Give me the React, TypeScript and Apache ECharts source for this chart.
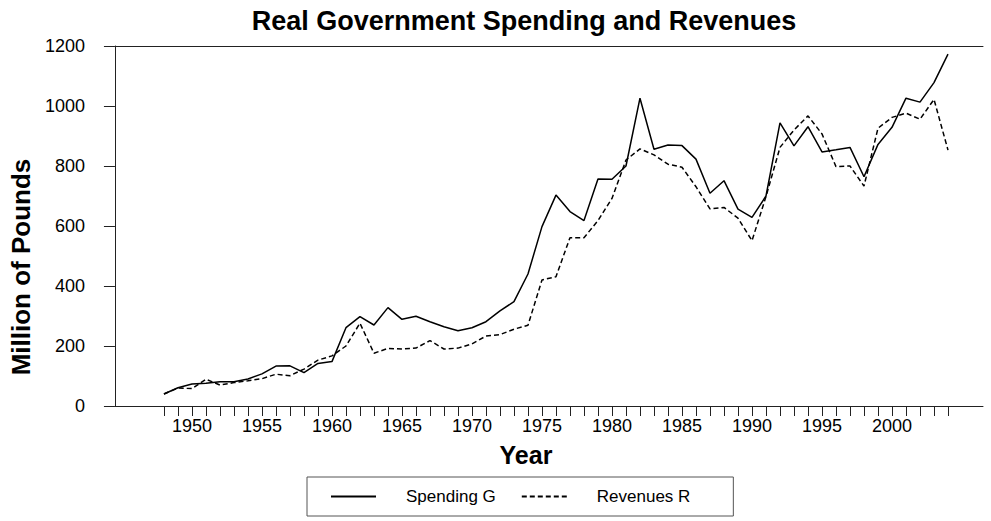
import React, { useEffect, useRef } from "react";
import * as echarts from "echarts";

const categories: string[] = [];
for (let y = 1945; y <= 2006; y++) categories.push(String(y));

const years: number[] = [
  1948, 1949, 1950, 1951, 1952, 1953, 1954, 1955, 1956, 1957,
  1958, 1959, 1960, 1961, 1962, 1963, 1964, 1965, 1966, 1967,
  1968, 1969, 1970, 1971, 1972, 1973, 1974, 1975, 1976, 1977,
  1978, 1979, 1980, 1981, 1982, 1983, 1984, 1985, 1986, 1987,
  1988, 1989, 1990, 1991, 1992, 1993, 1994, 1995, 1996, 1997,
  1998, 1999, 2000, 2001, 2002, 2003, 2004,
];

const spendingG: number[] = [
  40, 61, 73, 76, 81, 81, 90, 107, 133, 134,
  111, 142, 148, 261, 298, 270, 328, 289, 299, 281,
  264, 251, 261, 281, 317, 348, 440, 598, 703, 648,
  618, 757, 756, 800, 1026, 856, 870, 868, 823, 709,
  751, 656, 629, 700, 944, 867, 931, 847, 854, 862,
  764, 872, 929, 1026, 1013, 1078, 1173,
];

const revenuesR: number[] = [
  40, 60, 58, 89, 70, 78, 84, 91, 106, 101,
  123, 153, 167, 200, 276, 176, 192, 190, 193, 218,
  190, 193, 207, 233, 238, 256, 269, 420, 431, 561,
  561, 618, 692, 820, 857, 837, 806, 796, 731, 657,
  662, 626, 551, 698, 862, 920, 967, 907, 798, 800,
  733, 926, 962, 976, 956, 1022, 853,
];

const yTicks = { min: 0, max: 1200, interval: 200 };

const FONT = "'Liberation Sans', Arial, Helvetica, sans-serif";

export default function App() {
  const ref = useRef<HTMLDivElement>(null);

  useEffect(() => {
    if (!ref.current) return;
    const chart = echarts.init(ref.current, undefined, { renderer: "svg" });
    const option: any = {
      animation: false,
      backgroundColor: "#ffffff",
      textStyle: { fontFamily: FONT, color: "#000" },
      title: {
        text: "Real Government Spending and Revenues",
        left: 524,
        top: 7,
        padding: 0,
        textAlign: "center",
        textStyle: { fontFamily: FONT, fontSize: 27, fontWeight: "bold", color: "#000" },
      },
      legend: {
        data: ["Spending G", "Revenues R"],
        left: 307,
        top: 477,
        orient: "horizontal",
        borderColor: "#555",
        borderWidth: 1,
        borderRadius: 0,
        padding: [11, 43, 11, 23],
        itemWidth: 45,
        itemHeight: 14,
        itemGap: 25,
        itemStyle: { opacity: 0 },
        textStyle: { fontFamily: FONT, fontSize: 17, color: "#000", padding: [0, 0, 0, 25] },
      },
      grid: { left: 113, right: 8, top: 46, bottom: 115, containLabel: false },
      xAxis: [
        {
          type: "category",
          data: categories,
          boundaryGap: true,
          position: "bottom",
          name: "Year",
          nameLocation: "middle",
          nameGap: 36,
          nameTextStyle: {
            fontFamily: FONT,
            fontSize: 25,
            fontWeight: "bold",
            color: "#000",
            padding: [0, 46, 0, 0],
          },
          axisLine: { show: true, lineStyle: { color: "#222", width: 1 } },
          axisTick: {
            show: true,
            alignWithLabel: true,
            length: 10,
            interval: (_i: number, v: string) => +v >= 1948 && +v <= 2004,
            lineStyle: { color: "#222" },
          },
          axisLabel: {
            show: true,
            margin: 11,
            fontFamily: FONT,
            fontSize: 18,
            color: "#000",
            interval: (_i: number, v: string) => +v % 5 === 0 && +v >= 1950 && +v <= 2000,
          },
          splitLine: { show: false },
        },
        {
          type: "value",
          position: "top",
          min: 0,
          max: 1,
          axisLine: { show: true, onZero: false, lineStyle: { color: "#222", width: 1 } },
          axisTick: { show: false },
          axisLabel: { show: false },
          splitLine: { show: false },
        },
      ],
      yAxis: {
        type: "value",
        min: yTicks.min,
        max: yTicks.max,
        interval: yTicks.interval,
        name: "Million of Pounds",
        nameLocation: "middle",
        nameGap: 79,
        nameTextStyle: {
          fontFamily: FONT,
          fontSize: 26,
          fontWeight: "bold",
          color: "#000",
          padding: [0, 82, 0, 0],
        },
        axisLine: { show: true, lineStyle: { color: "#222", width: 1 } },
        axisTick: { show: true, length: 11, lineStyle: { color: "#222" } },
        axisLabel: {
          margin: 30,
          fontFamily: FONT,
          fontSize: 18,
          color: "#000",
          formatter: (v: number) => String(v),
        },
        splitLine: { show: false },
      },
      series: [
        {
          name: "Spending G",
          type: "line",
          xAxisIndex: 0,
          data: years.map((y, i) => [String(y), spendingG[i]]),
          symbol: "none",
          showSymbol: false,
          lineStyle: { color: "#000", width: 1.5, type: "solid" },
          itemStyle: { color: "#000" },
        },
        {
          name: "Revenues R",
          type: "line",
          xAxisIndex: 0,
          data: years.map((y, i) => [String(y), revenuesR[i]]),
          symbol: "none",
          showSymbol: false,
          lineStyle: { color: "#000", width: 1.5, type: [5, 3] },
          itemStyle: { color: "#000" },
        },
      ],
    };
    chart.setOption(option);
    return () => {
      chart.dispose();
    };
  }, []);

  return (
    <div
      ref={ref}
      style={{ position: "absolute", left: 0, top: 0, width: 991, height: 521 }}
    />
  );
}
